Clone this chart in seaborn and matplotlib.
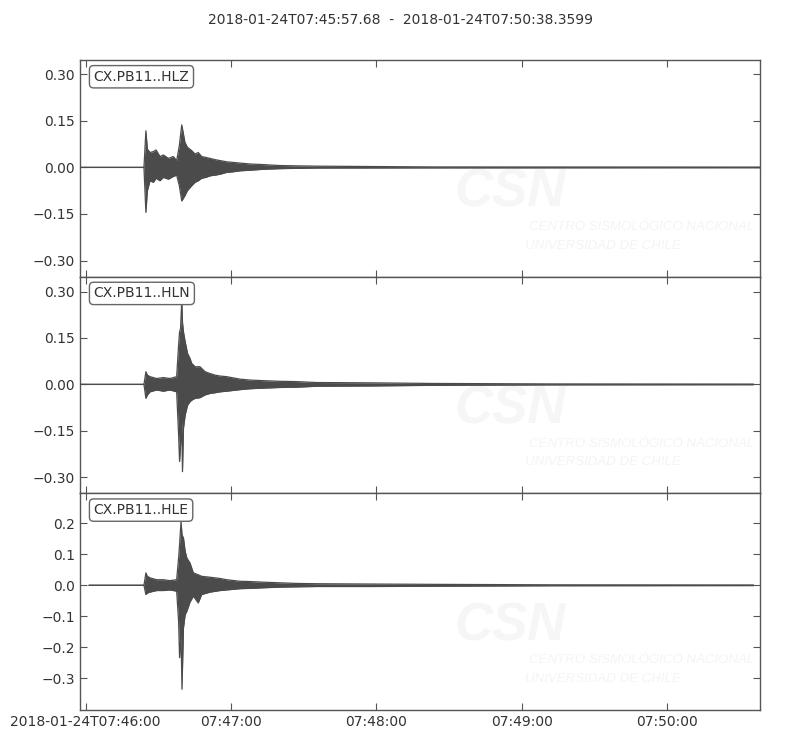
import numpy as np
import pandas as pd
import matplotlib
matplotlib.use('Agg')
import matplotlib.pyplot as plt
import seaborn as sns

# --- Data (seconds after 2018-01-24T07:45:57.68, envelope) ---
title_text = '2018-01-24T07:45:57.68  -  2018-01-24T07:50:38.3599'
channels = ['CX.PB11..HLZ', 'CX.PB11..HLN', 'CX.PB11..HLE']

hlz_t = [0.0, 26.4, 27.2, 27.8, 28.9, 30.3, 31.4, 33.0, 34.4, 36.5, 38.5, 39.9, 41.0, 42.0,
         43.3, 44.3, 46.1, 47.5, 48.8, 50.2, 52.0, 53.7, 55.7, 57.8, 60.5, 63.3, 66.0, 70.2,
         75.7, 82.5, 89.4, 97.7, 146.0, 280.68]
hlz_up = [0, 0, 0.118, 0.059, 0.048, 0.051, 0.056, 0.035, 0.040, 0.029, 0.035, 0.022, 0.070, 0.137,
          0.081, 0.065, 0.054, 0.043, 0.048, 0.035, 0.032, 0.029, 0.025, 0.022, 0.018, 0.016, 0.014, 0.011,
          0.009, 0.006, 0.005, 0.004, 0.0015, 0.001]
hlz_lo = [0, 0, -0.145, -0.075, -0.043, -0.048, -0.035, -0.043, -0.032, -0.038, -0.029, -0.025, -0.059, -0.108,
          -0.091, -0.075, -0.059, -0.048, -0.043, -0.035, -0.032, -0.027, -0.025, -0.022, -0.016, -0.014, -0.011, -0.009,
          -0.006, -0.004, -0.003, -0.002, -0.0015, -0.001]

hln_t = [0.0, 26.4, 27.2, 27.8, 28.9, 31.6, 34.4, 37.1, 39.9, 40.7, 41.1, 41.5, 42.0, 42.3,
         42.7, 43.4, 44.4, 45.4, 46.1, 47.5, 49.5, 51.6, 53.7, 55.7, 57.8, 60.5, 66.0, 70.2,
         75.7, 82.5, 89.4, 97.7, 120.0, 146.0, 195.0, 278.0]
hln_up = [0, 0, 0.041, 0.030, 0.025, 0.019, 0.022, 0.019, 0.025, 0.127, 0.170, 0.180, 0.270, 0.200,
          0.170, 0.138, 0.100, 0.084, 0.068, 0.057, 0.057, 0.041, 0.035, 0.030, 0.027, 0.025, 0.017, 0.014,
          0.012, 0.010, 0.009, 0.006, 0.005, 0.003, 0.0015, 0.001]
hln_lo = [0, 0, -0.045, -0.034, -0.024, -0.018, -0.022, -0.018, -0.024, -0.163, -0.249, -0.196, -0.120, -0.282,
          -0.142, -0.099, -0.067, -0.056, -0.051, -0.045, -0.043, -0.034, -0.029, -0.027, -0.024, -0.022, -0.017, -0.014,
          -0.012, -0.010, -0.009, -0.006, -0.005, -0.003, -0.0015, -0.001]

hle_t = [3.7, 26.4, 27.2, 27.8, 28.9, 31.6, 34.4, 37.1, 39.9, 40.7, 41.1, 41.7, 42.1, 42.7,
         43.4, 44.1, 45.4, 46.8, 48.8, 50.2, 53.7, 57.8, 60.5, 66.0, 70.2, 75.7, 82.5, 89.4,
         97.7, 120.0, 146.0, 195.0, 278.0]
hle_up = [0, 0, 0.040, 0.029, 0.024, 0.018, 0.018, 0.015, 0.018, 0.088, 0.131, 0.206, 0.163, 0.153,
          0.110, 0.088, 0.072, 0.040, 0.034, 0.029, 0.026, 0.022, 0.018, 0.013, 0.012, 0.010, 0.008, 0.006,
          0.005, 0.004, 0.003, 0.0015, 0.001]
hle_lo = [0, 0, -0.030, -0.025, -0.022, -0.017, -0.017, -0.015, -0.019, -0.116, -0.234, -0.159, -0.336, -0.138,
          -0.095, -0.084, -0.054, -0.035, -0.057, -0.030, -0.022, -0.017, -0.015, -0.011, -0.010, -0.008, -0.006, -0.005,
          -0.004, -0.004, -0.003, -0.0015, -0.001]

traces = [(hlz_t, hlz_up, hlz_lo), (hln_t, hln_up, hln_lo), (hle_t, hle_up, hle_lo)]

x_lim = (0.0, 280.68)
x_ticks = [2.32, 62.32, 122.32, 182.32, 242.32]
x_labels = ['2018-01-24T07:46:00', '07:47:00', '07:48:00', '07:49:00', '07:50:00']
y_ticks = [[-0.30, -0.15, 0.0, 0.15, 0.30],
           [-0.30, -0.15, 0.0, 0.15, 0.30],
           [-0.3, -0.2, -0.1, 0.0, 0.1, 0.2]]
y_fmt = ['%.2f', '%.2f', '%.1f']
y_lims = [(-0.352, 0.346), (-0.352, 0.348), (-0.403, 0.297)]

# --- Style ---
sns.set_style('white')
plt.rcParams['font.family'] = ['DejaVu Sans']
plt.rcParams['axes.unicode_minus'] = True
trace_color = '#4b4b4b'
text_color = '#333333'
wm_font = ['Liberation Sans', 'DejaVu Sans']

fig, axes = plt.subplots(3, 1, figsize=(8, 7.5), dpi=100, sharex=True)
fig.subplots_adjust(left=0.1, right=0.95, top=0.92, bottom=0.0533, hspace=0)

for i, ax in enumerate(axes):
    t, up, lo = traces[i]
    df = pd.DataFrame({'time': t + t, 'amp': up + lo,
                       'side': ['up'] * len(t) + ['lo'] * len(t)})
    ax.fill_between(t, lo, up, color=trace_color, linewidth=0, zorder=3)
    sns.lineplot(data=df, x='time', y='amp', units='side', estimator=None, sort=False,
                 color=trace_color, linewidth=0.9, ax=ax, zorder=3, legend=False)

    # faint CSN watermark
    ax.text(0.551, 0.322, 'CSN', transform=ax.transAxes, fontsize=38, fontweight='bold',
            style='italic', color='#f6f6f6', family=wm_font, zorder=1)
    ax.text(0.66, 0.215, 'CENTRO SISMOLÓGICO NACIONAL', transform=ax.transAxes,
            fontsize=9.5, style='italic', color='#f4f4f4', family=wm_font, zorder=1)
    ax.text(0.655, 0.13, 'UNIVERSIDAD DE CHILE', transform=ax.transAxes,
            fontsize=9.5, style='italic', color='#f4f4f4', family=wm_font, zorder=1)

    ax.text(0.02, 0.955, channels[i], transform=ax.transAxes, ha='left', va='top',
            fontsize=10, color=text_color, zorder=5,
            bbox=dict(boxstyle='round,pad=0.3', fc='white', ec='#666666', lw=1))

    ax.set_xlim(*x_lim)
    ax.set_ylim(*y_lims[i])
    ax.set_yticks(y_ticks[i])
    ax.set_yticklabels([(y_fmt[i] % v).replace('-', '\u2212') for v in y_ticks[i]])
    ax.set_xticks(x_ticks)
    ax.set_xlabel('')
    ax.set_ylabel('')
    ax.tick_params(direction='in', length=5, width=0.8, colors='#555555',
                   labelcolor=text_color, labelsize=10, top=True, right=True,
                   bottom=True, left=True)
    for sp in ax.spines.values():
        sp.set_color('#555555')
        sp.set_linewidth(1.0)

axes[-1].set_xticklabels(x_labels)
fig.suptitle(title_text, y=0.983, fontsize=10, color=text_color)

fig.savefig('out.png', dpi=100)
